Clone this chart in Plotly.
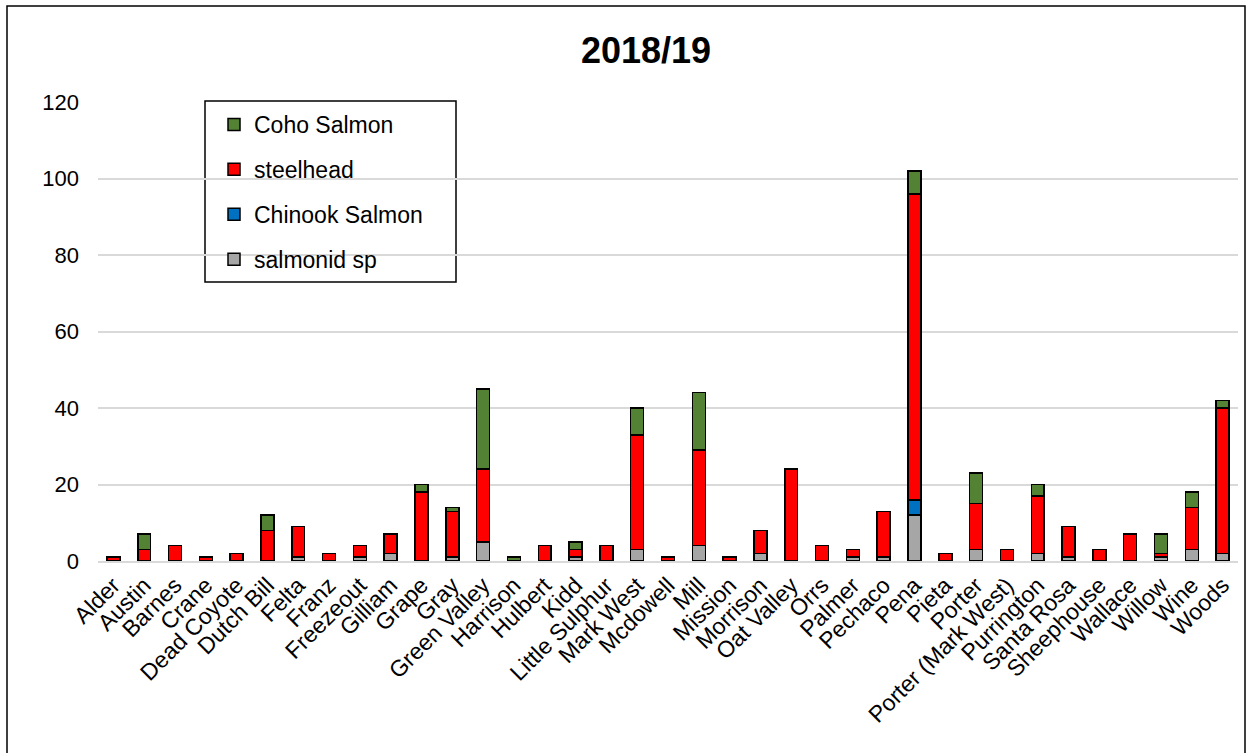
import plotly.graph_objects as go

categories = ["Alder", "Austin", "Barnes", "Crane", "Dead Coyote", "Dutch Bill", "Felta", "Franz",
              "Freezeout", "Gilliam", "Grape", "Gray", "Green Valley", "Harrison", "Hulbert", "Kidd",
              "Little Sulphur", "Mark West", "Mcdowell", "Mill", "Mission", "Morrison", "Oat Valley",
              "Orrs", "Palmer", "Pechaco", "Pena", "Pieta", "Porter", "Porter (Mark West)",
              "Purrington", "Santa Rosa", "Sheephouse", "Wallace", "Willow", "Wine", "Woods"]

salmonid_sp = [0, 0, 0, 0, 0, 0, 1, 0, 1, 2, 0, 1, 5, 0, 0, 1, 0, 3, 0, 4, 0, 2, 0, 0, 1, 1, 12, 0, 3, 0, 2, 1, 0, 0, 1, 3, 2]
chinook     = [0, 0, 0, 0, 0, 0, 0, 0, 0, 0, 0, 0, 0, 0, 0, 0, 0, 0, 0, 0, 0, 0, 0, 0, 0, 0, 4, 0, 0, 0, 0, 0, 0, 0, 0, 0, 0]
steelhead   = [1, 3, 4, 1, 2, 8, 8, 2, 3, 5, 18, 12, 19, 0, 4, 2, 4, 30, 1, 25, 1, 6, 24, 4, 2, 12, 80, 2, 12, 3, 15, 8, 3, 7, 1, 11, 38]
coho        = [0, 4, 0, 0, 0, 4, 0, 0, 0, 0, 2, 1, 21, 1, 0, 2, 0, 7, 0, 15, 0, 0, 0, 0, 0, 0, 6, 0, 8, 0, 3, 0, 0, 0, 5, 4, 2]

series = [
    ("salmonid sp", salmonid_sp, "#A6A6A6", 4),
    ("Chinook Salmon", chinook, "#0070C0", 3),
    ("steelhead", steelhead, "#FF0000", 2),
    ("Coho Salmon", coho, "#548235", 1),
]

fig = go.Figure()
for name, vals, col, rank in series:
    fig.add_trace(go.Bar(
        x=categories, y=vals, name=name, legendgroup=name, legendrank=rank,
        marker=dict(color=col, line=dict(color="black", width=1.5)),
    ))

L, R, T, B = 98, 14, 102, 192
W, H = 1252, 753
pw = W - L - R
ph = H - T - B

def px_x(p):
    return (p - L) / pw

def px_y(p):
    return (H - B - p) / ph

fig.update_layout(
    width=W, height=H,
    margin=dict(l=L, r=R, t=T, b=B, autoexpand=False),
    barmode="stack",
    bargap=0.58,
    paper_bgcolor="white",
    plot_bgcolor="white",
    font=dict(family="Liberation Sans, Arial, sans-serif", color="black", size=22),
    title=dict(text="<b>2018/19</b>", x=px_x(646), xanchor="center", xref="paper",
               y=1 - 50 / H, yanchor="middle", yref="container",
               font=dict(size=36, color="black")),
    showlegend=True,
    legend=dict(
        x=px_x(214), y=px_y(103), xanchor="left", yanchor="top",
        xref="paper", yref="paper",
        bgcolor="rgba(0,0,0,0)", borderwidth=0,
        traceorder="grouped", tracegroupgap=12,
        font=dict(size=23, color="black"),
        itemwidth=30,
    ),
    xaxis=dict(
        tickangle=-45, showgrid=False, showline=True, linecolor="#D9D9D9", linewidth=1.5,
        ticks="", tickfont=dict(size=23), range=[-0.5, len(categories) - 0.5],
    ),
    yaxis=dict(
        range=[0, 120], dtick=20, showgrid=True, gridcolor="#D9D9D9", gridwidth=1.5,
        zeroline=False, showline=False, ticks="", tickfont=dict(size=22),
        ticklabelstandoff=18,
    ),
    shapes=[
        dict(type="rect", xref="paper", yref="paper",
             x0=px_x(205), x1=px_x(456), y0=px_y(101), y1=px_y(282),
             line=dict(color="black", width=1.5), fillcolor="white", layer="between"),
        dict(type="rect", xref="paper", yref="paper",
             x0=px_x(7), x1=px_x(1245), y0=px_y(6), y1=px_y(800),
             line=dict(color="black", width=1.5), fillcolor="rgba(0,0,0,0)", layer="above"),
    ],
)

fig.write_html("out.html")
